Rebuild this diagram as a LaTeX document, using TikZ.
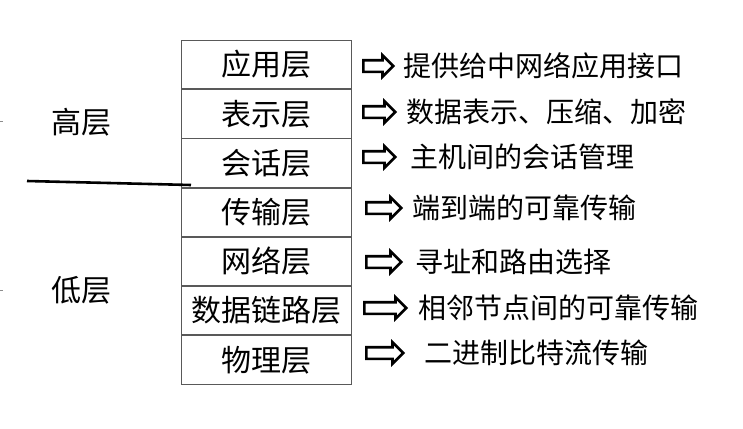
\documentclass[tikz,border=0pt]{standalone}
\usepackage{fontspec}
\newfontfamily\cjk{Noto Sans CJK SC}
\usetikzlibrary{shapes.arrows, positioning}

\begin{document}
\begin{tikzpicture}[
    x = 1pt, y = -1pt,
    layer/.style = {rectangle,
      draw = black!65,
      line width = 0.9pt,
      minimum width = 170pt,
      minimum height = 48.3pt,
      inner sep = 0pt,
      font = \cjk\fontsize{30}{30}\selectfont},
    group/.style = {font = \cjk\fontsize{30}{30}\selectfont},
    pointer/.style = {single arrow,
      draw,
      line width = 2.6pt,
      inner xsep = 0pt, inner ysep = 4.5pt,
      single arrow head extend = 5pt,
      minimum height = 30pt,
      anchor = west},
    duty/.style = {inner sep = 0pt,
      font = \cjk\fontsize{28}{28}\selectfont}
    ]
    \useasboundingbox (0, 0) rectangle (743, 428);

    % the seven layers
    \node at (266, 40) [layer, anchor = north, name = app] {应用层};
    \node [layer, below = 0pt of app, name = pres] {表示层};
    \node [layer, below = 0pt of pres, name = sess] {会话层};
    \node [layer, below = 0pt of sess, name = trans] {传输层};
    \node [layer, below = 0pt of trans, name = net] {网络层};
    \node [layer, below = 0pt of net, name = link] {数据链路层};
    \node [layer, below = 0pt of link, name = phys] {物理层};

    \node at (81, 122) [group, name = high] {高层};
    \node at (81, 290) [group, name = low] {低层};
    \draw [line width = 2.6pt] (27, 181) -- (191, 185);
    \draw [black!45] (0, 121) -- (3, 121);
    \draw [black!45] (0, 290) -- (3, 290);

    % what each layer does
    \node at (362, 66) [pointer, name = p1] {};
    \node at (362, 112) [pointer, name = p2, minimum height = 32pt] {};
    \node at (362, 157) [pointer, name = p3, minimum height = 32pt] {};
    \node at (365, 208) [pointer, name = p4, minimum height = 35pt] {};
    \node at (365, 262) [pointer, name = p5, minimum height = 35pt] {};
    \node at (363, 308) [pointer, name = p6, minimum height = 42pt] {};
    \node at (365, 353) [pointer, name = p7, minimum height = 37pt] {};

    \node [duty, right = 8pt of p1] {提供给中网络应用接口};
    \node [duty, right = 9pt of p2] {数据表示、压缩、加密};
    \node [duty, right = 13pt of p3] {主机间的会话管理};
    \node [duty, right = 9pt of p4] {端到端的可靠传输};
    \node [duty, right = 12pt of p5] {寻址和路由选择};
    \node [duty, right = 10pt of p6] {相邻节点间的可靠传输};
    \node [duty, right = 19pt of p7] {二进制比特流传输};

  \end{tikzpicture}
\end{document}
